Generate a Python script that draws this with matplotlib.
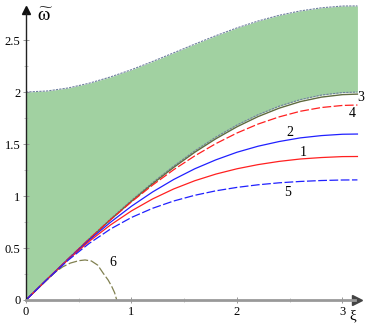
import numpy as np
import matplotlib
matplotlib.use("Agg")
import matplotlib.pyplot as plt

plt.rcParams["font.family"] = ["Liberation Serif", "DejaVu Serif"]
plt.rcParams["mathtext.fontset"] = "stix"

# values
xi = [0.0, 0.2, 0.4, 0.6, 0.8, 1.0, 1.2, 1.4, 1.6, 1.8, 2.0, 2.2, 2.4, 2.6, 2.8, 3.0, 3.1416]

band_low = [0.0, 0.200, 0.397, 0.591, 0.779, 0.959, 1.129, 1.288, 1.435, 1.567, 1.683,
            1.782, 1.864, 1.927, 1.971, 1.995, 2.0]
band_high = [2.0, 2.010, 2.039, 2.085, 2.145, 2.215, 2.294, 2.377, 2.461, 2.542, 2.617,
             2.683, 2.738, 2.780, 2.810, 2.827, 2.828]

curve_3 = [0.0, 0.198, 0.393, 0.585, 0.771, 0.949, 1.118, 1.275, 1.421, 1.551, 1.666,
           1.764, 1.845, 1.908, 1.951, 1.975, 1.980]
curve_4 = [0.0, 0.1996, 0.396, 0.588, 0.771, 0.944, 1.105, 1.253, 1.386, 1.504, 1.606,
           1.692, 1.761, 1.815, 1.851, 1.871, 1.875]
curve_2 = [0.0, 0.199, 0.393, 0.577, 0.747, 0.902, 1.039, 1.159, 1.262, 1.348, 1.421,
           1.479, 1.524, 1.559, 1.581, 1.594, 1.596]
curve_1 = [0.0, 0.1985, 0.389, 0.565, 0.721, 0.857, 0.972, 1.068, 1.147, 1.211, 1.262,
           1.302, 1.333, 1.356, 1.370, 1.379, 1.380]
curve_5 = [0.0, 0.198, 0.383, 0.545, 0.682, 0.794, 0.882, 0.952, 1.007, 1.050, 1.083,
           1.108, 1.127, 1.140, 1.149, 1.154, 1.155]

xi_6 = [0.0, 0.1, 0.2, 0.28, 0.35, 0.42, 0.5, 0.56, 0.62, 0.68, 0.73, 0.78, 0.815, 0.84, 0.86]
curve_6 = [0.0, 0.1, 0.195, 0.27, 0.32, 0.355, 0.378, 0.385, 0.375, 0.335, 0.26, 0.19,
           0.125, 0.07, 0.0]

labels = ["1", "2", "3", "4", "5", "6"]
label_x = [2.63, 2.50, 3.17, 3.09, 2.48, 0.825]
label_y = [1.42, 1.61, 1.95, 1.79, 1.03, 0.36]

fig = plt.figure(figsize=(3.83, 3.31), dpi=100)
ax = fig.add_axes([26 / 383, 31 / 331, 357 / 383, 300 / 331])
ax.set_xlim(0, 3.384)
ax.set_ylim(0, 2.885)

ax.fill_between(xi, band_low, band_high, color="#a1d1a1", lw=0)
ax.plot(xi, band_low, color="#7080a0", lw=0.8, ls=(0, (2, 1)))
ax.plot(xi, band_high, color="#7080a0", lw=0.8, ls=(0, (2, 1)))

# curve 6 goes under the others near the origin
ax.plot(xi_6, curve_6, color="#808050", lw=0.9, ls=(0, (7, 2)), zorder=1)
ax.plot(xi, curve_3, color="#5f6b3f", lw=1.0)
ax.plot(xi, curve_4, color="#ff2020", lw=0.9, ls=(0, (7, 2)))
ax.plot(xi, curve_2, color="#2020ff", lw=0.9)
ax.plot(xi, curve_1, color="#ff2020", lw=0.9)
ax.plot(xi, curve_5, color="#2020ff", lw=0.9, ls=(0, (7, 2)))

for t, x, y in zip(labels, label_x, label_y):
    ax.text(x, y, t, fontsize=10, ha="center", va="center", clip_on=False)

# axes with arrows
for s in ["top", "right"]:
    ax.spines[s].set_visible(False)
ax.spines["bottom"].set_color("#999999")
ax.spines["bottom"].set_linewidth(2)
ax.spines["bottom"].set_bounds(0, 3.12)
ax.spines["left"].set_color("#222222")
ax.spines["left"].set_linewidth(1)
ax.spines["left"].set_bounds(0, 2.76)
ax.plot(3.14, 0, ">", color="#444444", ms=7, clip_on=False)
ax.plot(0, 2.79, "^", color="#111111", ms=6, clip_on=False)

ax.set_xticks([0, 1, 2, 3])
ax.set_xticks([0.5, 1.5, 2.5], minor=True)
ax.set_yticks([0, 0.5, 1, 1.5, 2, 2.5])
ax.set_yticklabels(["0", "0.5", "1", "1.5", "2", "2.5"])
ax.set_yticks([0.25, 0.75, 1.25, 1.75, 2.25], minor=True)
ax.tick_params(axis="both", labelsize=9, direction="inout", length=4, width=0.6,
               color="#888888", pad=2)
ax.tick_params(which="minor", direction="inout", length=3, width=0.5, color="#aaaaaa")

# upright omega with a wide tilde, upright xi
ax.text(0.18, 2.73, r"$\widetilde{\mathrm{\omega}}$", fontsize=14, ha="center", va="center")
ax.text(3.1, -0.15, "\u03be", fontsize=11, ha="center", va="center", clip_on=False)

fig.savefig("out.png", dpi=100)
